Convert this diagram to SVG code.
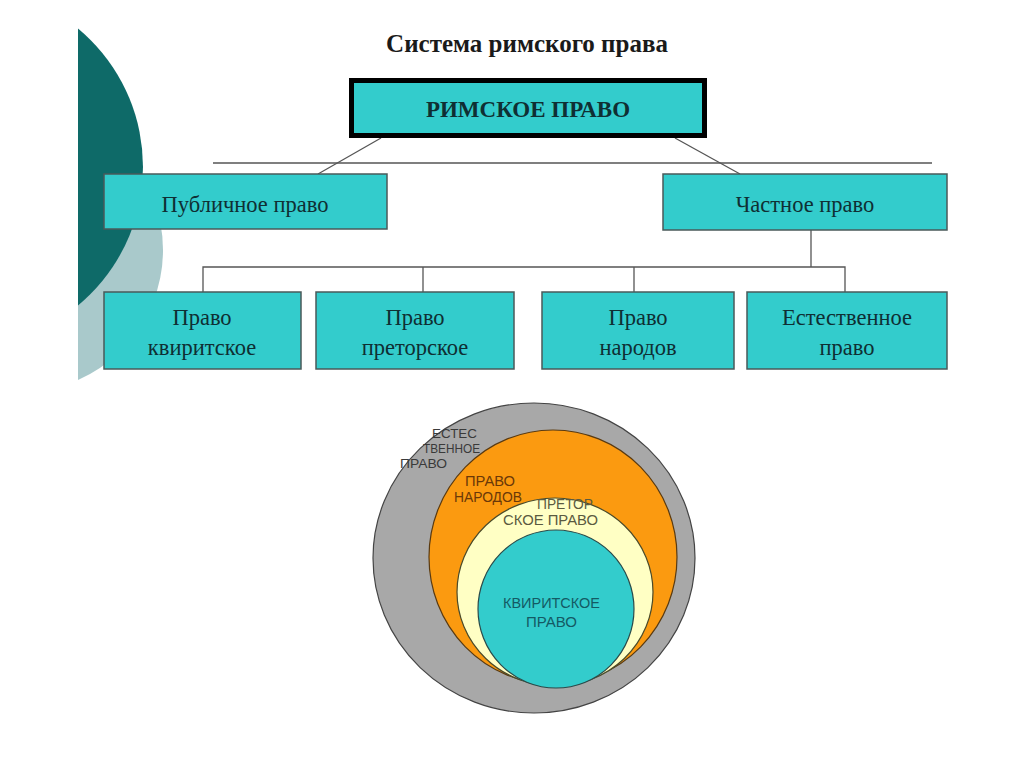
<svg xmlns="http://www.w3.org/2000/svg" width="1024" height="767" viewBox="0 0 1024 767">
<style>
.box{fill:#33cccc;stroke:#4a5a5a;stroke-width:1.5}
.bt{font-family:"Liberation Serif",serif;font-size:22.5px;fill:#0f2f33;text-anchor:middle}
.ln{stroke:#555;stroke-width:1.3;fill:none}
.ct{font-family:"Liberation Sans",sans-serif;font-size:14px}
</style>
<defs>
<clipPath id="slide"><rect x="78" y="0" width="946" height="767"/></clipPath>
</defs>
<rect width="1024" height="767" fill="#ffffff"/>
<g id="decor" clip-path="url(#slide)">
<circle cx="21" cy="250" r="142" fill="#a9c9cb"/>
<circle cx="-37" cy="167" r="180" fill="#0e6a68"/>
</g>
<text x="527" y="52" font-family="Liberation Serif,serif" font-size="25" font-weight="bold" fill="#1a1a1a" text-anchor="middle">Система римского права</text>
<g id="connectors">
<line class="ln" x1="213" y1="163" x2="932" y2="163"/>
<line class="ln" x1="381" y1="138" x2="318" y2="174"/>
<line class="ln" x1="675" y1="138" x2="740" y2="174"/>
<line class="ln" x1="811" y1="230" x2="811" y2="267"/>
<polyline class="ln" points="203,292 203,267 845,267 845,292"/>
<line class="ln" x1="423" y1="267" x2="423" y2="292"/>
<line class="ln" x1="634" y1="267" x2="634" y2="292"/>
</g>
<g id="root">
<rect x="351.5" y="80.5" width="353" height="55" fill="#33cccc" stroke="#000" stroke-width="5"/>
<text x="528" y="117" font-family="Liberation Serif,serif" font-size="23" font-weight="bold" fill="#0f2f33" text-anchor="middle">РИМСКОЕ ПРАВО</text>
</g>
<g id="public">
<rect class="box" x="104" y="174" width="283" height="55"/>
<text class="bt" x="245" y="212">Публичное право</text>
</g>
<g id="private">
<rect class="box" x="663" y="174" width="284" height="56"/>
<text class="bt" x="805" y="212">Частное право</text>
</g>
<g id="quiritian">
<rect class="box" x="104" y="292" width="197" height="77"/>
<text class="bt" x="202" y="325">Право</text>
<text class="bt" x="202" y="355">квиритское</text>
</g>
<g id="praetorian">
<rect class="box" x="316" y="292" width="198" height="77"/>
<text class="bt" x="415" y="325">Право</text>
<text class="bt" x="415" y="355">преторское</text>
</g>
<g id="gentium">
<rect class="box" x="542" y="292" width="192" height="77"/>
<text class="bt" x="638" y="325">Право</text>
<text class="bt" x="638" y="355">народов</text>
</g>
<g id="natural">
<rect class="box" x="747" y="292" width="200" height="77"/>
<text class="bt" x="847" y="325">Естественное</text>
<text class="bt" x="847" y="355">право</text>
</g>
<g id="circles">
<ellipse cx="534" cy="558" rx="161" ry="155" fill="#a8a8a8" stroke="#444" stroke-width="1.2"/>
<ellipse cx="553" cy="557" rx="124" ry="127" fill="#fb9a10" stroke="#5a3a10" stroke-width="1.2"/>
<ellipse cx="555" cy="592" rx="98" ry="94" fill="#ffffc4" stroke="#4a4a2a" stroke-width="1.2"/>
<ellipse cx="556" cy="609" rx="78" ry="79" fill="#33cccc" stroke="#2a4a4a" stroke-width="1.2"/>
<g class="ct" fill="#3a3a3a" font-size="12">
<text x="432" y="438" font-size="12" textLength="45" lengthAdjust="spacingAndGlyphs">ЕСТЕС</text>
<text x="423" y="453" font-size="12" textLength="57" lengthAdjust="spacingAndGlyphs">ТВЕННОЕ</text>
<text x="400" y="468" font-size="12" textLength="47" lengthAdjust="spacingAndGlyphs">ПРАВО</text>
</g>
<g class="ct" fill="#6a3808">
<text x="465" y="486" textLength="50" lengthAdjust="spacingAndGlyphs">ПРАВО</text>
<text x="454" y="502" textLength="68" lengthAdjust="spacingAndGlyphs">НАРОДОВ</text>
</g>
<g class="ct" fill="#5a5a40">
<text x="537" y="509" textLength="56" lengthAdjust="spacingAndGlyphs">ПРЕТОР</text>
<text x="503" y="525" textLength="95" lengthAdjust="spacingAndGlyphs">СКОЕ ПРАВО</text>
</g>
<g class="ct" fill="#145a64">
<text x="503" y="608" textLength="97" lengthAdjust="spacingAndGlyphs">КВИРИТСКОЕ</text>
<text x="526" y="627" textLength="51" lengthAdjust="spacingAndGlyphs">ПРАВО</text>
</g>
</g>
</svg>
